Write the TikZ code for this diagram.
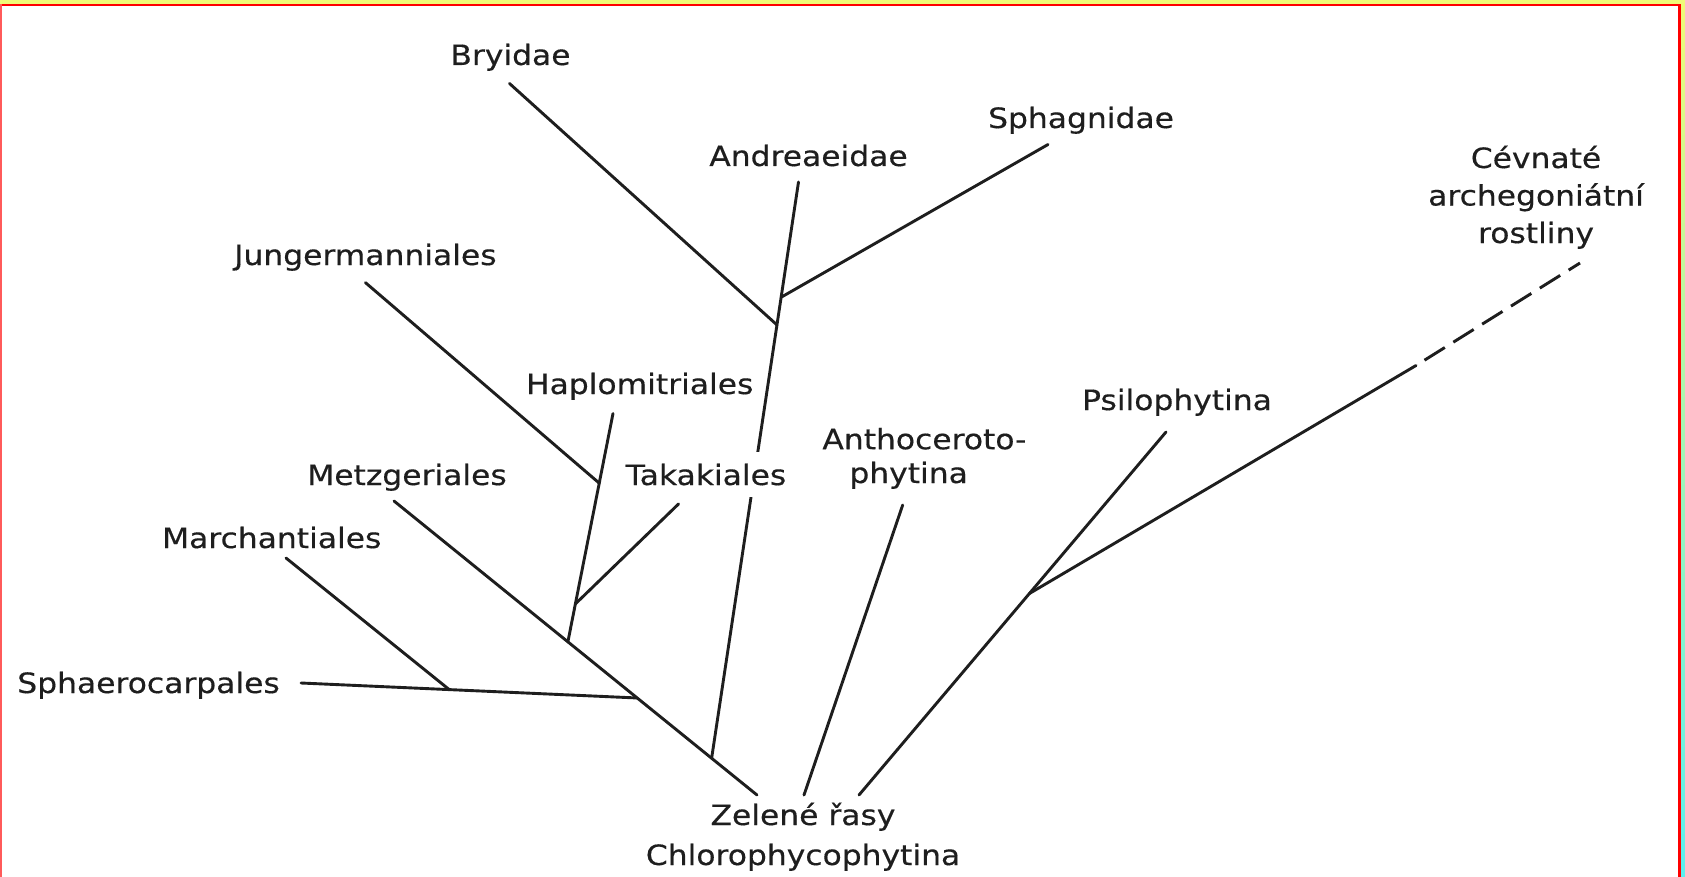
\documentclass[tikz,border=0pt]{standalone}
\usepackage{fontspec}
\newfontfamily\lblfam{DejaVu Sans}[FakeStretch=1.12, FakeBold=0.4]
\usetikzlibrary{calc}
\definecolor{ink}{RGB}{30,30,30}
\definecolor{topyellow}{RGB}{240,250,120}
\definecolor{framered}{RGB}{255,0,0}
\definecolor{leftred}{RGB}{255,90,90}
\definecolor{edgecyan}{RGB}{90,240,240}
\begin{document}
\begin{tikzpicture}[x=0.5pt,y=-0.5pt,
  lbl/.style={font=\lblfam\fontsize{14}{17}\selectfont, text=ink, inner sep=0pt, anchor=base},
  branch/.style={draw=ink, line width=1.45pt, line cap=round},
  future/.style={branch, line cap=butt, dash pattern=on 12pt off 5pt, dash phase=12pt}]
\useasboundingbox (0,0) rectangle (1685,877);
% frame
\fill[white] (0,0) rectangle (1685,877);
\fill[topyellow] (0,0) rectangle (1685,4);
\shade[top color=topyellow, bottom color=edgecyan] (1681,4) rectangle (1685,877);
\fill[framered] (0,4) rectangle (1681,6.5);
\fill[framered] (1678,4) rectangle (1681,877);
\fill[leftred] (0,4) rectangle (1.6,877);

% branch end points and junctions
\coordinate (metT) at (394,501);
\coordinate (metB) at (757,795);
\coordinate (hapB) at ($(metT)!0.479!(metB)$);
\coordinate (sphcR) at ($(metT)!0.670!(metB)$);
\coordinate (andB) at ($(metT)!0.875!(metB)$);
\coordinate (andT) at (798.5,182);
\coordinate (sphJ) at ($(andT)!0.2!(andB)$);
\coordinate (bryJ) at ($(andT)!0.248!(andB)$);
\coordinate (bryT) at (509.5,83.5);
\coordinate (sphT) at (1048,144.5);
\coordinate (hapT) at (613,413.5);
\coordinate (jungJ) at ($(hapT)!0.305!(hapB)$);
\coordinate (takJ) at ($(hapT)!0.834!(hapB)$);
\coordinate (jungT) at (365.4,282.6);
\coordinate (takT) at (678.5,504);
\coordinate (sphcL) at (301,683);
\coordinate (marJ) at ($(sphcL)!0.441!(sphcR)$);
\coordinate (marT) at (286,558);
\coordinate (anthT) at (902.7,505);
\coordinate (anthB) at (804,795);
\coordinate (psiT) at (1166,432);
\coordinate (psiB) at (859,795);
\coordinate (vasJ) at ($(psiT)!0.445!(psiB)$);
\coordinate (vasM) at (1416,365.5);
\coordinate (vasE) at (1580,263);

% branches
\draw[branch] (metT) -- (metB);
\draw[branch] (andT) -- (andB);
\draw[branch] (bryT) -- (bryJ);
\draw[branch] (sphT) -- (sphJ);
\draw[branch] (hapT) -- (hapB);
\draw[branch] (jungT) -- (jungJ);
\draw[branch] (takT) -- (takJ);
\draw[branch] (sphcL) -- (sphcR);
\draw[branch] (marT) -- (marJ);
\draw[branch] (anthT) -- (anthB);
\draw[branch] (psiT) -- (psiB);
\draw[branch] (vasJ) -- (vasM);
\draw[future] (vasM) -- (vasE);

% labels (multi-line labels are anchored at the baseline of their last line)
\node[lbl] (bryidae) at (510.5,65) {Bryidae};
\node[lbl] (andreaeidae) at (808.5,166) {Andreaeidae};
\node[lbl] (sphagnidae) at (1081,128) {Sphagnidae};
\node[lbl, align=center, font=\lblfam\fontsize{14}{18.75}\selectfont] (cevnate) at (1536,243) {Cévnaté\\archegoniátní\\rostliny};
\node[lbl] (jungermanniales) at (365.4,265) {Jungermanniales};
\node[lbl] (haplomitriales) at (639.7,394) {Haplomitriales};
\node[lbl] (psilophytina) at (1177,410) {Psilophytina};
\node[lbl, align=left, font=\lblfam\fontsize{14}{16.9}\selectfont, anchor=base west] (anthoceroto) at (822,483) {Anthoceroto-\\\hspace*{13.5pt}phytina};
\node[lbl] (metzgeriales) at (407,485) {Metzgeriales};
\node[lbl, fill=white, inner xsep=3pt, inner ysep=6pt] (takakiales) at (706,485) {Takakiales};
\node[lbl] (marchantiales) at (271.7,548) {Marchantiales};
\node[lbl] (sphaerocarpales) at (148.5,693) {Sphaerocarpales};
\node[lbl, align=center, font=\lblfam\fontsize{14}{20}\selectfont] (zelene) at (803,865) {Zelené řasy\\Chlorophycophytina};
\end{tikzpicture}
\end{document}
